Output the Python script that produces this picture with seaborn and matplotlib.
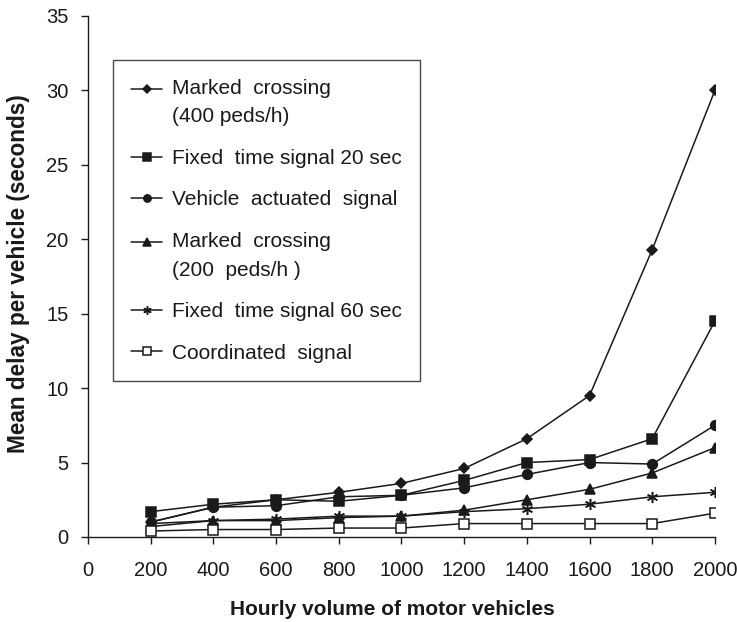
import matplotlib
matplotlib.use("Agg")
import numpy as np
import matplotlib.pyplot as plt
from matplotlib.legend_handler import HandlerLine2D
import seaborn as sns
import pandas as pd

volume = [200, 400, 600, 800, 1000, 1200, 1400, 1600, 1800, 2000]

marked_400 = [1.0, 2.0, 2.5, 3.0, 3.6, 4.6, 6.6, 9.5, 19.3, 30.0]
fixed_20 = [1.7, 2.2, 2.5, 2.4, 2.8, 3.8, 5.0, 5.2, 6.6, 14.5]
vehicle_actuated = [1.0, 2.0, 2.1, 2.7, 2.8, 3.3, 4.2, 5.0, 4.9, 7.5]
marked_200 = [0.7, 1.1, 1.1, 1.3, 1.4, 1.8, 2.5, 3.2, 4.3, 6.0]
fixed_60 = [0.9, 1.1, 1.2, 1.4, 1.4, 1.7, 1.9, 2.2, 2.7, 3.0]
coordinated = [0.4, 0.5, 0.5, 0.6, 0.6, 0.9, 0.9, 0.9, 0.9, 1.6]

labels = [
    "Marked  crossing\n(400 peds/h)",
    "Fixed  time signal 20 sec",
    "Vehicle  actuated  signal",
    "Marked  crossing\n(200  peds/h )",
    "Fixed  time signal 60 sec",
    "Coordinated  signal",
]
series = [marked_400, fixed_20, vehicle_actuated, marked_200, fixed_60, coordinated]
markers = ["D", "s", "o", "^", (6, 2, 0), "s"]
marker_sizes = [5.5, 7, 7, 7, 8, 7]
face_colors = ["#1a1a1a", "#1a1a1a", "#1a1a1a", "#1a1a1a", "#1a1a1a", "white"]
two_line = ["\n" in lab for lab in labels]


class FirstLineHandler(HandlerLine2D):
    """Legend handle that sits beside the first line of a two-line label."""

    def __init__(self, shift=0.0, **kw):
        super().__init__(**kw)
        self.shift = shift

    def create_artists(self, legend, orig_handle, xdescent, ydescent,
                       width, height, fontsize, trans):
        artists = super().create_artists(legend, orig_handle, xdescent, ydescent,
                                         width, height, fontsize, trans)
        for a in artists:
            a.set_ydata(np.asarray(a.get_ydata(), dtype=float) + self.shift)
        return artists


sns.set_style("ticks")
plt.rcParams["font.family"] = ["Liberation Sans", "DejaVu Sans"]

fig = plt.figure(figsize=(7.37, 6.22), dpi=100)
ax = fig.add_axes([0.1194, 0.1367, 0.8506, 0.8376])

line_color = "#1a1a1a"
for values, label, mk, ms, fc in zip(series, labels, markers, marker_sizes, face_colors):
    df = pd.DataFrame({"volume": volume, "delay": values})
    sns.lineplot(
        data=df, x="volume", y="delay", ax=ax, color=line_color,
        linewidth=1.1, marker=mk, markersize=ms, markerfacecolor=fc,
        markeredgecolor=line_color, markeredgewidth=1.1, label=label,
    )

ax.set_xlim(0, 2000)
ax.set_ylim(0, 35)
ax.set_xticks(range(0, 2001, 200))
ax.set_yticks(range(0, 36, 5))
ax.tick_params(axis="both", labelsize=14.5, length=5, width=1, colors="#1a1a1a",
               labelcolor="#1a1a1a")
ax.tick_params(axis="x", pad=12)
ax.tick_params(axis="y", pad=9)
for side in ("top", "right"):
    ax.spines[side].set_visible(False)
for side in ("left", "bottom"):
    ax.spines[side].set_color("#1a1a1a")
    ax.spines[side].set_linewidth(1)

ax.set_xlabel("Hourly volume of motor vehicles", fontsize=15, fontweight="bold",
              labelpad=15, color="#1a1a1a", x=0.486)
ax.set_ylabel("Mean delay per vehicle (seconds)", fontsize=16.3, fontweight="bold",
              labelpad=12, color="#1a1a1a", y=0.505)

handles, leg_labels = ax.get_legend_handles_labels()
legend_fs = 15
handler_map = {
    h: FirstLineHandler(shift=(10.0 if tl else 0.0))
    for h, tl in zip(handles, two_line)
}
leg = ax.legend(handles, leg_labels, handler_map=handler_map,
                loc="upper left", bbox_to_anchor=(0.04, 0.915), fontsize=legend_fs,
                frameon=True, fancybox=False, edgecolor="#1a1a1a",
                handlelength=1.45, handletextpad=0.5, labelspacing=1.08,
                borderpad=0.88, borderaxespad=0, markerscale=0.75)
leg.get_frame().set_linewidth(1.0)
for t in leg.get_texts():
    t.set_color("#1a1a1a")
    t.set_linespacing(1.65)

fig.savefig("out.png", dpi=100)
